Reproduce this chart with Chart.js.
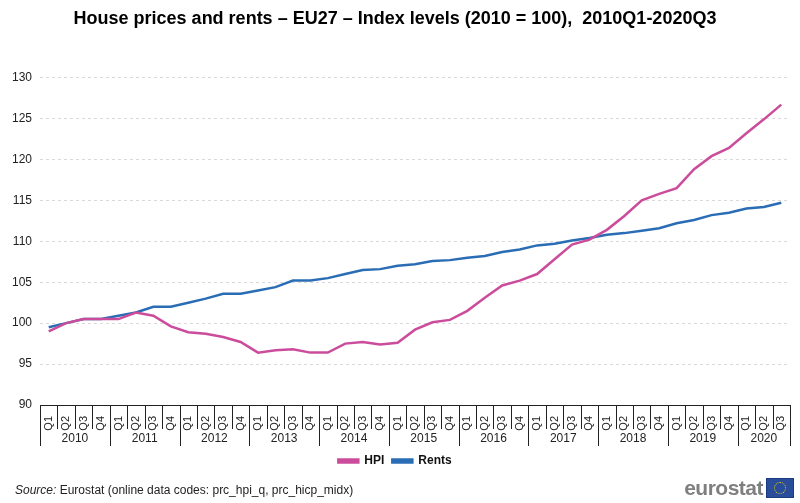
<!DOCTYPE html>
<html>
<head>
<meta charset="utf-8">
<script src="https://cdn.jsdelivr.net/npm/chart.js@4.4.1/dist/chart.umd.min.js"></script>
<style>
  html, body { margin: 0; padding: 0; background: #fff; }
  #wrap { position: relative; width: 800px; height: 503px; }
  #source { position: absolute; left: 15px; top: 483px; font: 12px 'Liberation Sans', Arial, sans-serif; color: #222; }
  #logo { position: absolute; right: 6px; top: 477px; height: 22px; display: flex; align-items: center; }
  #logo span { font: bold 21px 'Liberation Sans', Arial, sans-serif; color: #7f7f7f; letter-spacing: -0.5px; margin-right: 3px; }
  #flag { width: 26px; height: 18px; background: #2a4d9b; border: 1px solid #1c3a80; position: relative; }
  #flag::after { content: ""; position: absolute; left: 7px; top: 3px; width: 10px; height: 10px; border: 1.5px dotted #f5d000; border-radius: 50%; }
</style>
</head>
<body>
<div id="wrap">
  <canvas id="myChart" width="800" height="503"></canvas>
  <div id="source"><i>Source:</i> Eurostat (online data codes: prc_hpi_q, prc_hicp_midx)</div>
  <div id="logo"><span>eurostat</span><div id="flag"></div></div>
</div>
<script>
//* Datos del grafico

var anios = ["2010", "2011", "2012", "2013", "2014", "2015", "2016", "2017", "2018", "2019", "2020"];
var trimestres = [
  "Q1", "Q2", "Q3", "Q4", "Q1", "Q2", "Q3", "Q4", "Q1", "Q2", "Q3", "Q4",
  "Q1", "Q2", "Q3", "Q4", "Q1", "Q2", "Q3", "Q4", "Q1", "Q2", "Q3", "Q4",
  "Q1", "Q2", "Q3", "Q4", "Q1", "Q2", "Q3", "Q4", "Q1", "Q2", "Q3", "Q4",
  "Q1", "Q2", "Q3", "Q4", "Q1", "Q2", "Q3"
];
var hpi = [
  99.0, 100.0, 100.5, 100.5,
  100.5, 101.3, 100.9, 99.6,
  98.9, 98.7, 98.3, 97.7,
  96.4, 96.7, 96.8, 96.4,
  96.4, 97.5, 97.7, 97.4,
  97.6, 99.2, 100.1, 100.4,
  101.5, 103.1, 104.6, 105.2,
  106.0, 107.8, 109.6, 110.2,
  111.4, 113.1, 115.0, 115.8,
  116.5, 118.8, 120.4, 121.4,
  123.2, 124.9, 126.7
];
var rents = [
  99.5, 100.0, 100.5, 100.5,
  100.9, 101.3, 102.0, 102.0,
  102.5, 103.0, 103.6, 103.6,
  104.0, 104.4, 105.2, 105.2,
  105.5, 106.0, 106.5, 106.6,
  107.0, 107.2, 107.6, 107.7,
  108.0, 108.2, 108.7, 109.0,
  109.5, 109.7, 110.1, 110.4,
  110.8, 111.0, 111.3, 111.6,
  112.2, 112.6, 113.2, 113.5,
  114.0, 114.2, 114.7
];

var fuente = "'Liberation Sans', Arial, sans-serif";

// separadores y etiquetas de anios debajo del eje x
var ejeAnios = {
  id: "ejeAnios",
  afterDraw: function (chart) {
    var x = chart.scales.x;
    var ctx = chart.ctx;
    var n = trimestres.length;
    var paso = (x.right - x.left) / n;
    var arriba = x.top;
    ctx.save();
    ctx.strokeStyle = "#222";
    ctx.lineWidth = 1;
    ctx.beginPath();
    ctx.moveTo(x.left, arriba + 0.5);
    ctx.lineTo(x.right, arriba + 0.5);
    for (var i = 0; i <= n; i++) {
      var px = Math.round(x.getPixelForValue(i) - paso / 2) + 0.5;
      var largo = (i % 4 === 0 || i === n) ? 41 : 24;
      ctx.moveTo(px, arriba);
      ctx.lineTo(px, arriba + largo);
    }
    ctx.stroke();
    ctx.fillStyle = "#222";
    ctx.font = "12px " + fuente;
    ctx.textAlign = "center";
    ctx.textBaseline = "middle";
    for (var k = 0; k < anios.length; k++) {
      var ini = k * 4;
      var fin = Math.min(ini + 4, n);
      var centro = (x.getPixelForValue(ini) + x.getPixelForValue(fin - 1)) / 2;
      ctx.fillText(anios[k], centro, arriba + 34);
    }
    ctx.restore();
  }
};

document.addEventListener("DOMContentLoaded", function () {
  var ctx = document.getElementById("myChart");

  new Chart(ctx, {
    type: "line",
    data: {
      labels: trimestres,
      datasets: [
        {
          label: "HPI",
          data: hpi,
          borderColor: "#cc4c9c",
          backgroundColor: "#cc4c9c",
          borderWidth: 2.5,
          pointRadius: 0,
          tension: 0
        },
        {
          label: "Rents",
          data: rents,
          borderColor: "#2a6db5",
          backgroundColor: "#2a6db5",
          borderWidth: 2.5,
          pointRadius: 0,
          tension: 0
        }
      ]
    },
    options: {
      responsive: false,
      animation: false,
      layout: { padding: { left: 0, right: 10, top: 0, bottom: 26 } },
      plugins: {
        title: {
          display: true,
          text: "House prices and rents \u2013 EU27 \u2013 Index levels (2010 = 100),  2010Q1-2020Q3",
          color: "#000",
          font: { family: fuente, size: 18, weight: "bold" },
          padding: { top: 8, bottom: 48 }
        },
        legend: {
          position: "bottom",
          labels: {
            color: "#111",
            font: { family: fuente, size: 12, weight: "bold" },
            boxWidth: 20,
            boxHeight: 3,
            padding: 8
          }
        },
        tooltip: { enabled: false }
      },
      scales: {
        x: {
          offset: true,
          grid: { display: false },
          border: { display: false },
          ticks: {
            color: "#222",
            font: { family: fuente, size: 11 },
            minRotation: 90,
            maxRotation: 90,
            autoSkip: false,
            padding: 3
          },
          afterFit: function (scale) { scale.height = 42; }
        },
        y: {
          min: 90,
          max: 130,
          ticks: {
            stepSize: 5,
            color: "#222",
            font: { family: fuente, size: 12 },
            padding: 8
          },
          grid: {
            color: function (c) { return c.tick.value === 90 ? "rgba(0,0,0,0)" : "#d9d9d9"; },
            drawTicks: false
          },
          border: { display: false, dash: [3, 3] },
          afterFit: function (scale) { scale.width = 40; }
        }
      }
    },
    plugins: [ejeAnios]
  });
});
</script>
</body>
</html>
